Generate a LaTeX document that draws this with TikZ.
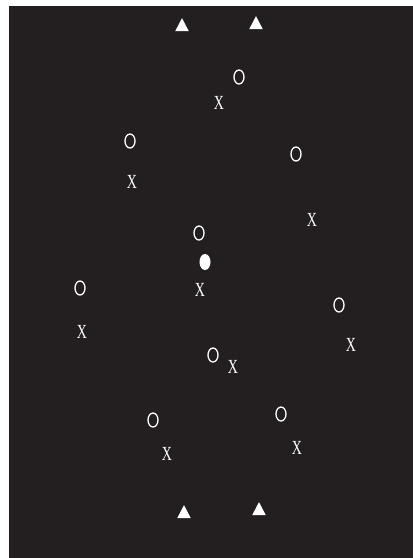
\documentclass[tikz,border=0pt]{standalone}
\usepackage{fontspec}
\setmainfont{Liberation Serif}
\usetikzlibrary{shapes.geometric}
\definecolor{bg}{HTML}{231F20}
\tikzset{
  ring/.style={draw=white, line width=1.3pt, ellipse, minimum width=10pt, minimum height=14pt, inner sep=0pt},
  dot/.style={fill=white, ellipse, minimum width=11pt, minimum height=16pt, inner sep=0pt},
  cross/.style={text=white, inner sep=0pt, font=\fontsize{20}{20}\selectfont},
  tri/.style={fill=white, isosceles triangle, isosceles triangle apex angle=55, shape border rotate=90, minimum height=13pt, inner sep=0pt}
}
\newcommand{\xmark}{\scalebox{0.7}[1]{X}}
\begin{document}
\begin{tikzpicture}[x=1pt,y=-1pt]
\useasboundingbox (0,0) rectangle (413,558);
\fill[bg] (9,6) rectangle (413,558);
% triangles
\node[tri] (t1) at (182,27) {};
\node[tri] (t2) at (256,25) {};
\node[tri] (t3) at (184,514) {};
\node[tri] (t4) at (259,511) {};
% rings
\node[ring] (o1) at (239,77) {};
\node[ring] (o2) at (130,141) {};
\node[ring] (o3) at (296,154) {};
\node[ring] (o4) at (199,233) {};
\node[ring] (o5) at (80,288) {};
\node[ring] (o6) at (339,305) {};
\node[ring] (o7) at (213,355) {};
\node[ring] (o8) at (153,420) {};
\node[ring] (o9) at (281,414) {};
% filled
\node[dot] (d1) at (205,262) {};
% crosses
\node[cross] (x1) at (219,103) {\xmark};
\node[cross] (x2) at (132,182) {\xmark};
\node[cross] (x3) at (312,220) {\xmark};
\node[cross] (x4) at (200,290) {\xmark};
\node[cross] (x5) at (82,332) {\xmark};
\node[cross] (x6) at (351,345) {\xmark};
\node[cross] (x7) at (233,367) {\xmark};
\node[cross] (x8) at (167,454) {\xmark};
\node[cross] (x9) at (297,448) {\xmark};
\end{tikzpicture}
\end{document}
